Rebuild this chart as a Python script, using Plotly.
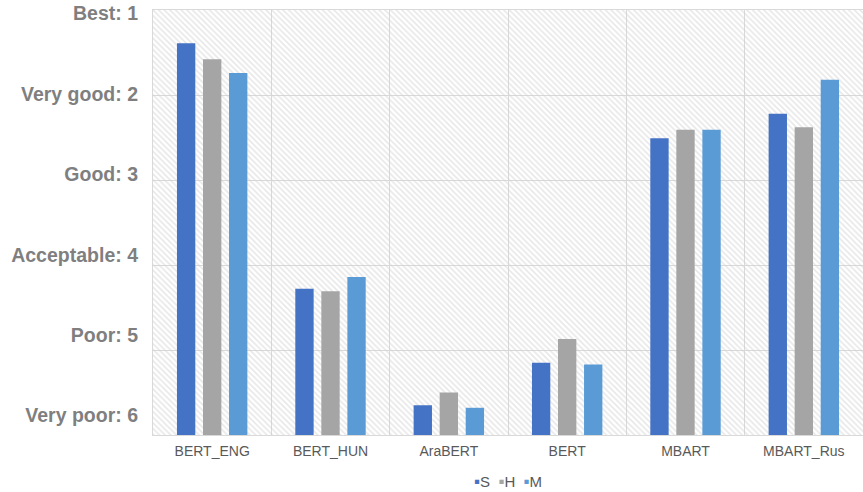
import plotly.graph_objects as go

categories = ["BERT_ENG", "BERT_HUN", "AraBERT", "BERT", "MBART", "MBART_Rus"]
series_names = ["S", "H", "M"]
s_vals = [1.39, 4.28, 5.65, 5.15, 2.51, 2.22]
h_vals = [1.58, 4.31, 5.50, 4.87, 2.41, 2.38]
m_vals = [1.74, 4.14, 5.68, 5.17, 2.41, 1.82]
rating_ticks = [1, 2, 3, 4, 5, 6]
rating_labels = ["Best: 1", "Very good: 2", "Good: 3", "Acceptable: 4", "Poor: 5", "Very poor: 6"]

colors = ["#4472C4", "#A5A5A5", "#5B9BD5"]
worst = 6
bar_w = 0.155
offsets = [-0.2975, -0.0775, 0.1425]

fig = go.Figure()

# hatched plot background
fig.add_trace(go.Bar(
    x=[categories[0]], y=[1 - worst], base=[worst], width=[len(categories)], offset=-0.5,
    marker=dict(color="rgba(0,0,0,0)", line=dict(width=0),
                pattern=dict(shape="\\", fgcolor="#cfcfcf", bgcolor="rgba(255,255,255,0)",
                             size=4, solidity=0.38)),
    hoverinfo="skip", showlegend=False,
))

for name, vals, col, off in zip(series_names, [s_vals, h_vals, m_vals], colors, offsets):
    fig.add_trace(go.Bar(
        x=categories, y=[v - worst for v in vals], base=[worst] * len(vals),
        name=name, width=bar_w, offset=off,
        marker=dict(color=col, line=dict(width=0)),
        customdata=vals, hovertemplate="%{x}: %{customdata}<extra>" + name + "</extra>",
        showlegend=False,
    ))

# invisible trace to carry the label axis
fig.add_trace(go.Scatter(x=[categories[0]], y=[1], yaxis="y2", mode="markers",
                         marker=dict(opacity=0), showlegend=False, hoverinfo="skip"))

legend_text = "&nbsp;&nbsp;".join(
    f"<span style='color:{c};font-size:17px'>▪</span>{n}" for n, c in zip(series_names, colors)
)
fig.add_annotation(text=legend_text, xref="paper", yref="paper", x=0.5, y=-0.11,
                   xanchor="center", yanchor="middle", showarrow=False,
                   font=dict(size=15, color="#595959", family="Liberation Sans, Arial, sans-serif"))

fig.update_layout(
    width=863, height=492,
    margin=dict(l=153, r=0, t=10, b=57, autoexpand=False),
    paper_bgcolor="white", plot_bgcolor="white",
    barmode="overlay",
    font=dict(family="Liberation Sans, Arial, sans-serif", color="#595959"),
    xaxis=dict(type="category", range=[-0.5, 5.5], tickson="boundaries",
               showgrid=True, gridcolor="#d9d9d9", gridwidth=1,
               showline=True, linecolor="#d9d9d9", mirror=True, automargin=False,
               ticks="", ticklabelstandoff=3, tickfont=dict(size=14, color="#595959")),
    yaxis=dict(range=[worst, 1], tickvals=rating_ticks, showticklabels=False,
               showgrid=True, gridcolor="#d9d9d9", gridwidth=1, zeroline=False,
               showline=True, linecolor="#d9d9d9", mirror=True, ticks="", automargin=False),
    yaxis2=dict(overlaying="y", side="left", range=[6.2425, 0.9565],
                tickvals=rating_ticks, ticktext=rating_labels, automargin=False,
                showgrid=False, zeroline=False, showline=False, ticks="",
                ticklabelstandoff=14,
                tickfont=dict(size=19.5, color="#7f7f7f", family="Liberation Sans, Arial, sans-serif", weight="bold")),
    showlegend=False,
)

fig.write_html("out.html")
